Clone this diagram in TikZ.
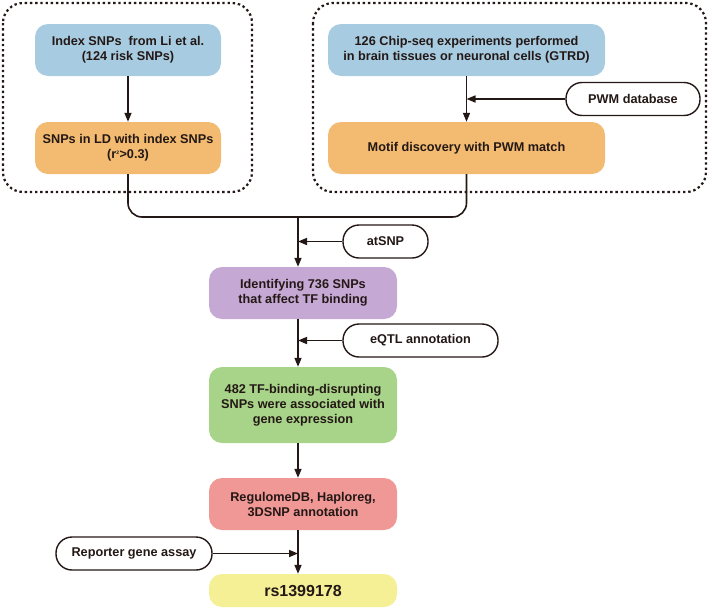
\documentclass[tikz,border=0pt]{standalone}
\usepackage{fontspec}
\setmainfont{Liberation Sans}
\usetikzlibrary{positioning,arrows.meta}
\definecolor{linecol}{RGB}{35,24,21}
\definecolor{stepblue}{RGB}{167,204,225}
\definecolor{steporange}{RGB}{243,187,113}
\definecolor{steppurple}{RGB}{197,168,212}
\definecolor{stepgreen}{RGB}{168,212,137}
\definecolor{stepred}{RGB}{240,152,150}
\definecolor{stepyellow}{RGB}{245,240,150}
\tikzstyle{stepbox} = [rectangle, rounded corners=13pt, minimum height=52pt,
    align=center, inner sep=2pt, text=linecol,
    font=\fontsize{12.7}{15}\selectfont\bfseries]
\tikzstyle{toolbox} = [draw=linecol, line width=1.4pt, fill=white,
    rounded corners=16pt, minimum height=33pt, align=center, text=linecol,
    font=\fontsize{12.7}{15}\selectfont\bfseries]
\tikzstyle{flow} = [draw=linecol, line width=1.6pt,
    -{Triangle[length=9pt,width=7pt]}]
\tikzstyle{joinline} = [draw=linecol, line width=1.6pt, rounded corners=14pt]
\tikzstyle{groupbox} = [draw=linecol, line width=2.2pt,
    dash pattern=on 2.4pt off 2.8pt, rounded corners=20pt]

\begin{document}
\begin{tikzpicture}[x=1pt,y=-1pt]
\useasboundingbox (0,0) rectangle (709,608);

% dotted groups
\draw[groupbox] (3,3) rectangle (252,192);
\draw[groupbox] (313,3) rectangle (706,192);

% left branch
\node[stepbox, fill=stepblue, minimum width=186pt] (index) at (128,50)
    {Index SNPs\ \ from Li et al.\\(124 risk SNPs)};
\node[stepbox, fill=steporange, minimum width=186pt] (ld) at (128,148)
    {SNPs in LD with index SNPs\\(r\textsuperscript{\tiny 2}>0.3)};
\draw[flow] (index) -- (ld);

% right branch
\node[stepbox, fill=stepblue, minimum width=277pt] (chip) at (466.5,50)
    {126 Chip-seq experiments performed\\in brain tissues or neuronal cells (GTRD)};
\node[stepbox, fill=steporange, minimum width=277pt] (motif) at (466.5,148)
    {Motif discovery with PWM match};
\node[toolbox, minimum width=134pt] (pwm) at (633,99) {PWM database};
\draw[flow] (chip) -- (motif);
\draw[flow] (pwm.west) -- (pwm.west -| chip.south);

% merge
\coordinate (merge) at (298,217);
\draw[joinline] (ld.south) |- (merge) -| (motif.south);

\node[toolbox, minimum width=85pt] (atsnp) at (385.5,241.5) {atSNP};
\node[stepbox, fill=steppurple, minimum width=188pt] (tfbind) at (303,293)
    {Identifying 736 SNPs\\that affect TF binding};
\draw[flow] (merge) -- (merge |- tfbind.north);
\draw[flow] (atsnp.west) -- (atsnp.west -| merge);

\node[toolbox, minimum width=155pt] (eqtl) at (420.5,340.5) {eQTL annotation};
\node[stepbox, fill=stepgreen, minimum width=188pt, minimum height=76pt] (eqtlsnp) at (303,405)
    {482 TF-binding-disrupting\\SNPs were associated with\\gene expression};
\draw[flow] (merge |- tfbind.south) -- (merge |- eqtlsnp.north);
\draw[flow] (eqtl.west) -- (eqtl.west -| merge);

\node[stepbox, fill=stepred, minimum width=188pt] (regdb) at (303,504)
    {RegulomeDB, Haploreg,\\3DSNP annotation};
\draw[flow] (merge |- eqtlsnp.south) -- (merge |- regdb.north);

\node[toolbox, minimum width=156pt] (reporter) at (134,553.5) {Reporter gene assay};
\node[stepbox, fill=stepyellow, minimum width=188pt, minimum height=33pt,
    font=\fontsize{16}{18}\selectfont\bfseries] (rs) at (303,590.5) {rs1399178};
\draw[flow] (merge |- regdb.south) -- (merge |- rs.north);
\draw[flow] (reporter.east) -- (reporter.east -| merge);

\end{tikzpicture}
\end{document}
